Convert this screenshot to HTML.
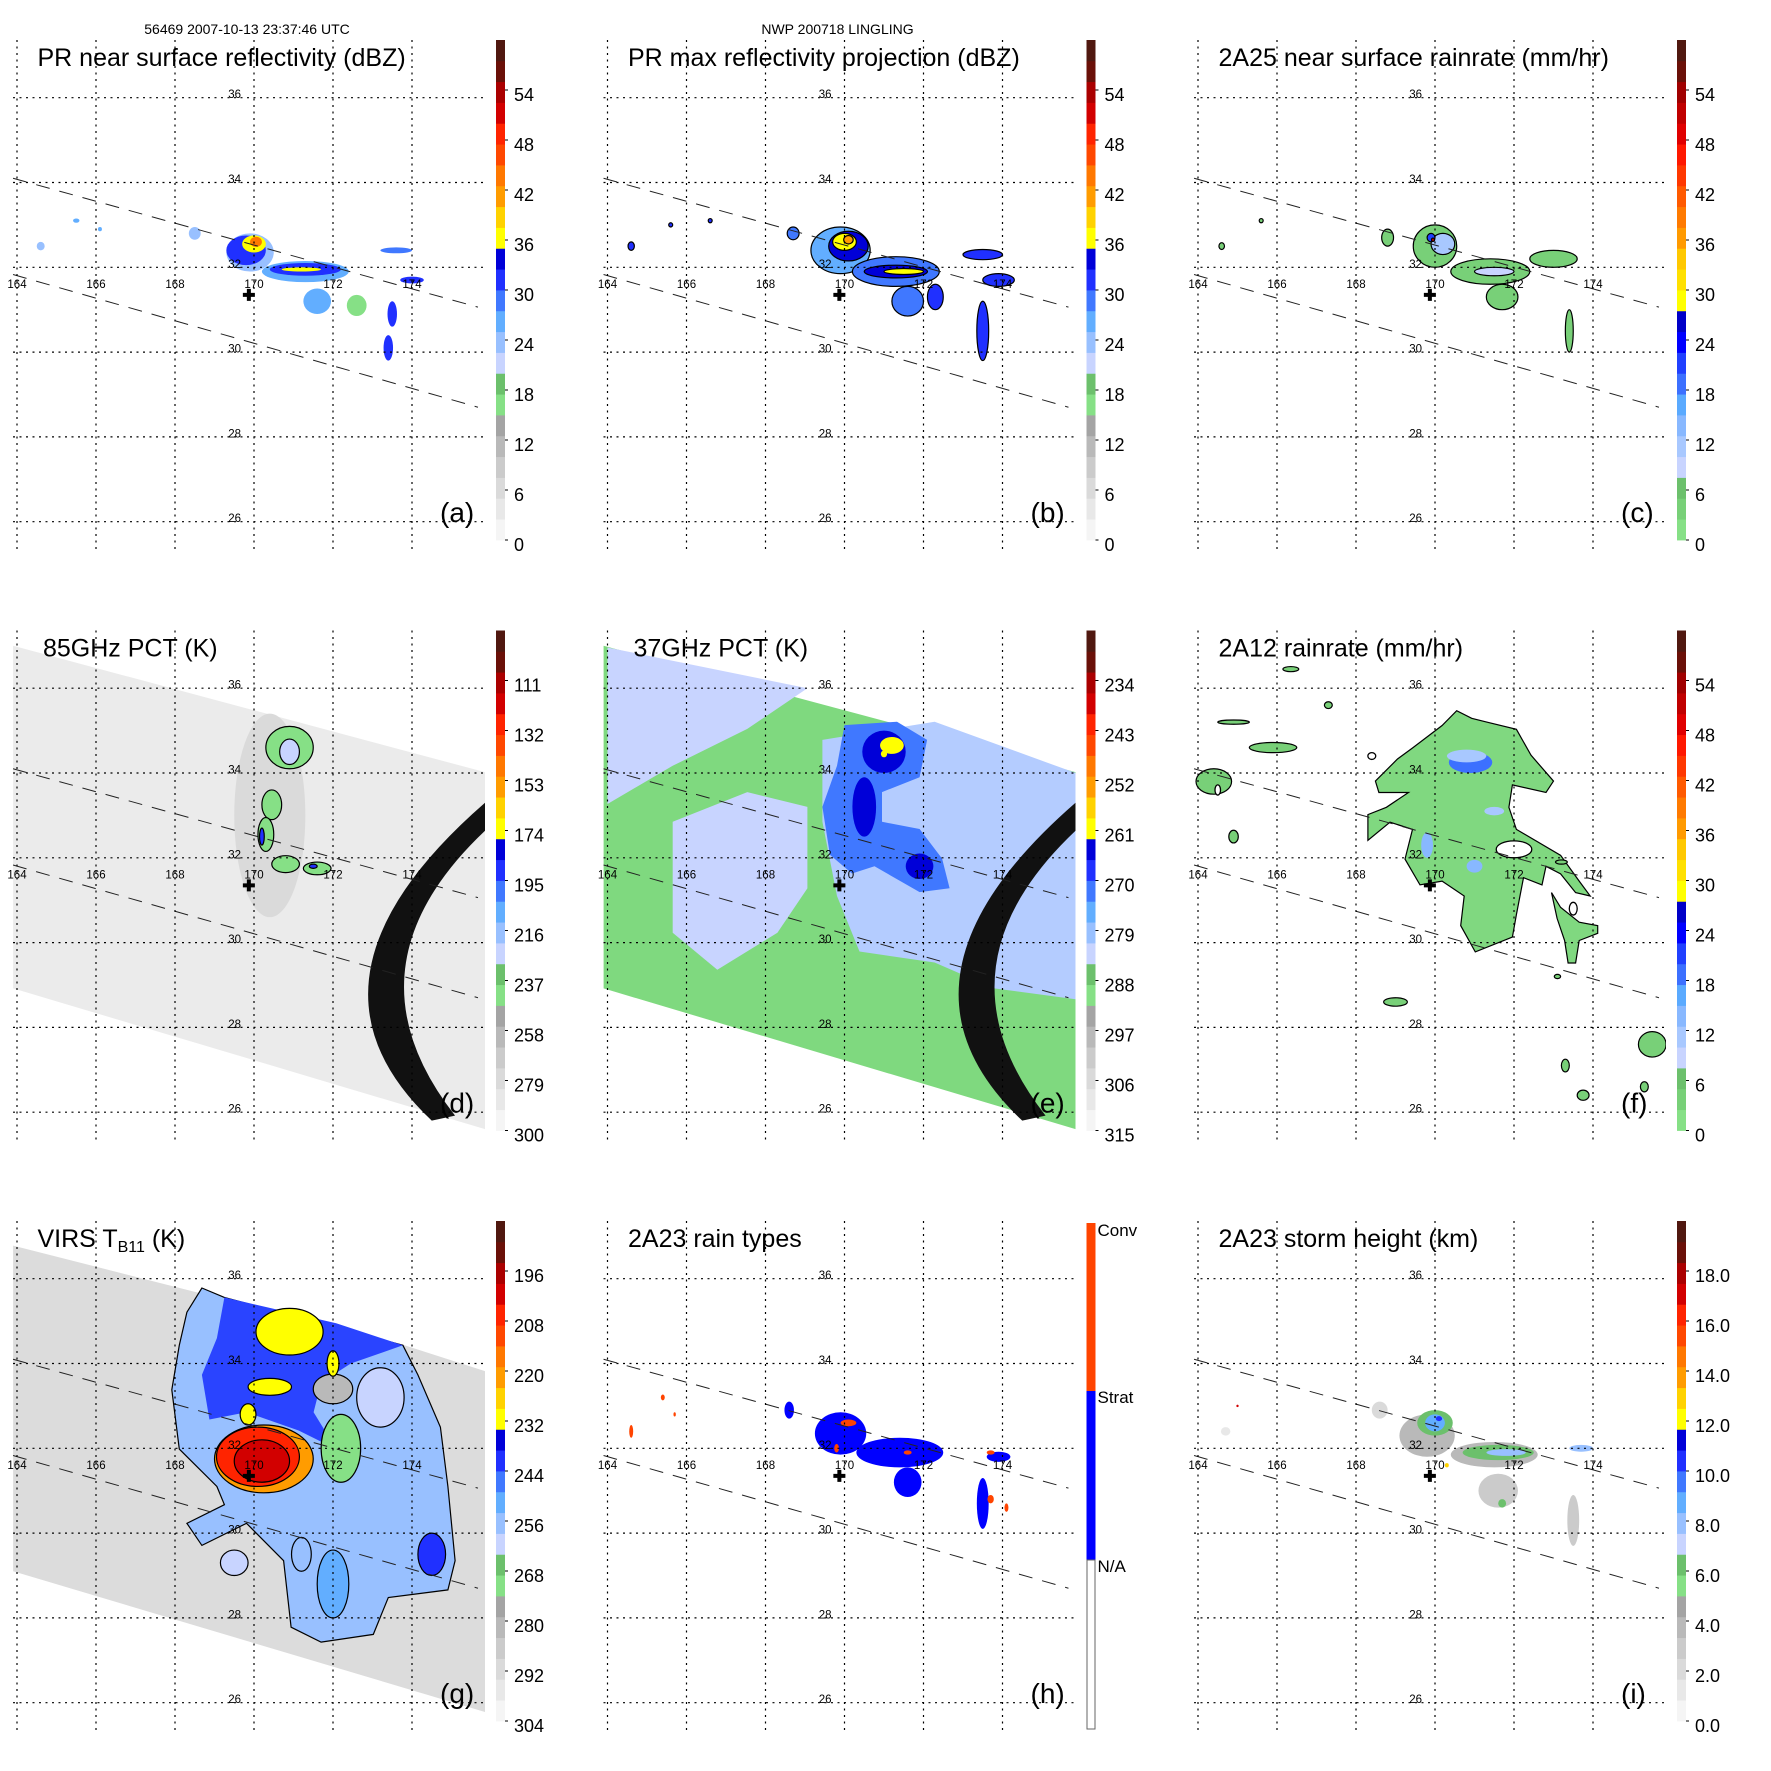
<!DOCTYPE html>
<html><head><meta charset="utf-8"><title>TRMM LINGLING</title>
<style>
html,body{margin:0;padding:0;background:#fff;width:1771px;height:1771px;overflow:hidden}
svg{display:block;font-family:"Liberation Sans",sans-serif}
</style></head>
<body>
<svg id="fig" xmlns="http://www.w3.org/2000/svg" width="1771" height="1771" viewBox="0 0 1771 1771">
<rect width="1771" height="1771" fill="#fff"/>
<text x="247" y="34" font-size="14" text-anchor="middle">56469 2007-10-13 23:37:46 UTC</text>
<text x="837.5" y="34" font-size="14" text-anchor="middle">NWP 200718 LINGLING</text>
</svg>
<script>
// ---------- data ----------
const lonTicks=[164,166,168,170,172,174];
const latTicks=[26,28,30,32,34,36];
const swathUpper=[[163.9,34.1],[175.67,31.06]];
const swathLower=[[163.9,31.83],[175.67,28.7]];
const stormCenter=[169.87,31.35];
const labelsA=['0','6','12','18','24','30','36','42','48','54'];
const labelsC=['0','6','12','18','24','30','36','42','48','54'];
const labelsD=['300','279','258','237','216','195','174','153','132','111'];
const labelsE=['315','306','297','288','279','270','261','252','243','234'];
const labelsG=['304','292','280','268','256','244','232','220','208','196'];
const labelsI=['0.0','2.0','4.0','6.0','8.0','10.0','12.0','14.0','16.0','18.0'];
// blobs: [lon, lat, halfwidth-lon, halfwidth-lat, value]
const blobsA=[[169.9,32.35,0.6,0.45,23],[169.8,32.4,0.5,0.35,31],[170.0,32.55,0.3,0.2,37],[170.05,32.6,0.15,0.12,43],
[171.3,31.9,1.1,0.25,25],[171.3,31.95,0.9,0.15,31],[171.2,31.95,0.5,0.05,37],[171.6,31.2,0.35,0.3,26],[172.6,31.1,0.25,0.25,17],
[173.5,30.9,0.12,0.3,31],[173.4,30.1,0.12,0.3,30],[174.0,31.7,0.3,0.08,30],[173.6,32.4,0.4,0.07,28],[168.5,32.8,0.15,0.15,24],
[164.6,32.5,0.1,0.1,24],[165.5,33.1,0.08,0.05,27],[166.1,32.9,0.05,0.05,26]];
const blobsB=[[169.9,32.4,0.75,0.55,27],[170.1,32.5,0.5,0.35,33],[170.0,32.6,0.3,0.2,37],[170.1,32.65,0.12,0.1,42],
[171.3,31.9,1.1,0.35,29],[171.3,31.9,0.8,0.15,33],[171.5,31.9,0.5,0.07,37],[171.6,31.2,0.4,0.35,29],[172.3,31.3,0.2,0.3,30],
[173.5,30.5,0.15,0.7,31],[173.9,31.7,0.4,0.15,30],[173.5,32.3,0.5,0.12,30],[168.7,32.8,0.15,0.15,28],[164.6,32.5,0.08,0.1,30],
[165.6,33.0,0.05,0.05,30],[166.6,33.1,0.05,0.05,30]];
const blobsC=[[170.0,32.5,0.55,0.5,3],[170.2,32.55,0.3,0.25,10],[169.9,32.7,0.1,0.1,22],[169.95,32.65,0.04,0.04,50],
[171.4,31.9,1.0,0.3,3],[171.5,31.9,0.5,0.1,9],[171.7,31.3,0.4,0.3,3],[173.0,32.2,0.6,0.2,3],[173.4,30.5,0.1,0.5,3],
[168.8,32.7,0.15,0.2,3],[164.6,32.5,0.07,0.08,3],[165.6,33.1,0.05,0.05,3]];
const swathD=[[163.9,37.0],[175.85,34.02],[175.85,25.6],[163.9,28.92]];
const blobsD=[[170.4,33.0,0.9,2.4,276],[170.9,34.6,0.6,0.5,239],[170.9,34.5,0.25,0.3,223],[170.45,33.25,0.25,0.35,239],
[170.3,32.55,0.2,0.4,239],[170.2,32.5,0.06,0.2,191],[170.8,31.85,0.35,0.2,239],[171.6,31.75,0.35,0.15,239],[171.5,31.8,0.1,0.05,191]];
const arcOuter=[[175.85,33.3],[172.94,29.34],[174.5,25.8]];
const arcInner=[[175.85,32.64],[173.82,29.34],[175.09,25.92]];
const eLightTL=[[164,36.96],[169.06,36.0],[167.54,35.04],[165.65,34.17],[164,33.27]];
const eLightMid=[[165.65,32.85],[167.54,33.55],[169.06,33.2],[169.06,31.28],[168.3,30.23],[166.78,29.36],[165.65,30.23]];
const eLightRight=[[169.44,34.78],[172.28,35.21],[175.88,33.99],[175.88,28.66],[173.79,28.92],[172.28,29.53],[170.38,29.79],[169.81,31.1],[169.44,32.85]];
const eStorm=[[170.0,35.13],[171.33,35.21],[172.09,34.78],[171.9,33.9],[170.95,33.55],[170.95,32.85],[171.9,32.68],[172.47,31.98],[172.66,31.28],[171.9,31.19],[170.76,31.8],[170.19,31.63],[169.63,32.07],[169.44,33.2],[169.81,34.17]];
const blobsE=[[171.0,34.5,0.55,0.5,266],[170.5,33.2,0.3,0.7,266],[171.9,31.8,0.35,0.3,266],[171.2,34.65,0.3,0.2,261],[171.0,34.45,0.08,0.08,261]];
const swathG=[[163.9,36.78],[173.77,34.44],[175.85,33.82],[175.85,25.78],[163.9,29.1]];
const gOuter=[[168.68,35.78],[169.25,35.56],[173.77,34.43],[174.15,33.73],[174.72,32.5],[174.91,31.1],[175.09,29.35],[174.91,28.66],[173.4,28.48],[173.02,27.61],[171.7,27.43],[170.94,27.78],[170.75,29.35],[169.81,30.23],[168.68,29.71],[168.3,30.23],[169.25,30.67],[169.06,31.1],[168.11,31.98],[167.92,33.38],[168.11,34.43],[168.3,35.21]];
const gBlue=[[169.25,35.56],[172.08,34.95],[173.77,34.43],[172.45,34.0],[171.7,33.55],[171.51,32.85],[172.08,31.98],[171.13,32.42],[169.81,32.85],[168.87,32.68],[168.68,33.73],[169.06,34.6]];
const blobsG=[[172.2,32.0,0.5,0.8,270],[173.2,33.2,0.6,0.7,262],[172.0,33.4,0.5,0.35,282],[170.9,34.75,0.85,0.55,232],[170.4,33.45,0.55,0.2,232],
[172.0,34.0,0.15,0.3,232],[169.85,32.8,0.2,0.25,232],[170.25,31.75,1.25,0.8,222],[170.1,31.8,1.05,0.7,208],[170.2,31.7,0.7,0.5,202],
[172.0,28.8,0.4,0.8,252],[174.5,29.5,0.35,0.5,244],[171.2,29.5,0.25,0.4,258],[169.5,29.3,0.35,0.3,262]];
const blobsH=[[169.9,32.35,0.65,0.5,1],[171.4,31.9,1.1,0.35,1],[171.6,31.2,0.35,0.35,1],[173.5,30.7,0.15,0.6,1],[173.9,31.8,0.3,0.12,1],[168.6,32.9,0.12,0.2,1],
[170.1,32.6,0.2,0.08,2],[169.8,32.0,0.06,0.1,2],[171.6,31.9,0.1,0.05,2],[173.7,31.9,0.1,0.05,2],[173.7,30.8,0.08,0.1,2],[174.1,30.6,0.05,0.1,2],
[164.6,32.4,0.05,0.15,2],[165.4,33.2,0.05,0.07,2],[165.7,32.8,0.03,0.05,2]];
const blobsI=[[169.8,32.3,0.7,0.5,3.5],[170.0,32.6,0.45,0.3,6],[170.0,32.6,0.25,0.2,8.5],[170.1,32.7,0.08,0.06,10.5],[171.5,31.85,1.1,0.3,3.5],
[171.6,31.9,0.9,0.18,6],[171.8,31.9,0.5,0.08,8],[171.6,31.0,0.5,0.4,3],[171.7,30.7,0.1,0.1,6],[173.5,30.3,0.15,0.6,3],[173.7,32.0,0.3,0.08,7.5],
[168.6,32.9,0.2,0.2,2],[164.7,32.4,0.12,0.1,1.5],[165.0,33.0,0.03,0.03,17],[170.3,31.6,0.05,0.05,12.5]];
const fMain=[[168.49,33.81],[169.05,34.33],[169.43,34.59],[170.18,35.12],[170.55,35.47],[170.93,35.29],[171.31,35.2],[172.06,35.03],[172.43,34.42],[173.0,33.81],[172.81,33.54],[171.96,33.72],[171.87,33.19],[172.06,32.67],[173.18,32.06],[173.65,31.45],[173.93,31.1],[173.56,31.18],[173.18,31.62],[172.81,31.8],[172.71,31.36],[172.24,31.53],[172.06,30.66],[171.96,30.13],[171.02,29.78],[170.65,30.4],[170.74,31.1],[170.18,31.45],[169.62,31.36],[169.24,31.97],[169.43,32.67],[168.86,32.84],[168.3,32.41],[168.3,33.02],[168.77,33.19],[169.33,33.54],[168.58,33.54]];
const fBranch=[[172.95,31.18],[173.18,30.83],[173.65,30.48],[174.12,30.4],[174.12,30.22],[173.65,30.05],[173.56,29.52],[173.37,29.52],[173.28,30.05],[173.09,30.57]];
const blobsF=[[164.4,33.8,0.45,0.3,3],[164.9,35.2,0.4,0.05,3],[165.9,34.6,0.6,0.12,3],[164.9,32.5,0.12,0.15,3],[166.35,36.45,0.2,0.06,3],[167.3,35.6,0.1,0.08,3],
[175.5,27.6,0.35,0.3,3],[173.3,27.1,0.1,0.15,3],[173.75,26.4,0.15,0.12,3],[175.3,26.6,0.1,0.12,3],[169.0,28.6,0.3,0.1,3],[173.2,31.9,0.15,0.05,3],[173.1,29.2,0.08,0.05,3]];
const blobsFBlue=[[170.9,34.25,0.55,0.25,18],[170.8,34.4,0.5,0.15,10],[169.8,32.3,0.15,0.3,14],[171.0,31.8,0.2,0.15,14],[171.5,33.1,0.25,0.1,12]];
const fHoles=[[172.0,32.2,0.45,0.2],[173.5,30.8,0.1,0.15],[168.4,34.4,0.1,0.08],[164.5,33.6,0.07,0.12]];

const palStd=['#f5f5f5','#e8e8e8','#dadada','#cbcbcb','#b9b9b9','#a4a4a4','#86e086','#6cc06c','#c8d4ff','#98c0ff','#62aeff','#4078ff','#2030ff','#0000d8','#ffff00','#ffd200','#ff9c00','#ff7800','#ff4800','#ff2400','#d20000','#aa0000','#6a1008','#501810'];
const palRain=['#86e086','#78d078','#6cc06c','#c8d4ff','#a8c8ff','#88b8ff','#5aaaff','#3c70ff','#2040ff','#0000ff','#0000c8','#ffff00','#ffe000','#ffc800','#ff9a00','#ff7a00','#ff5a00','#ff3800','#ff1800','#e00000','#c00000','#a00000','#6a1008','#501810'];

// ---------- drawing ----------
const NS='http://www.w3.org/2000/svg';
const svg=document.getElementById('fig');
const PITCH=590.5;
function X(lon){return 17+(lon-164)*39.5;}
function Y(lat){return 97.7+(36-lat)*42.4;}
function mk(tag,attrs,parent){const e=document.createElementNS(NS,tag);for(const k in attrs)e.setAttribute(k,attrs[k]);parent.appendChild(e);return e;}
function col(pal,t){let i=Math.floor(t/2.5);if(i<0)i=0;if(i>23)i=23;return pal[i];}
function pts(arr){return arr.map(p=>X(p[0]).toFixed(1)+','+Y(p[1]).toFixed(1)).join(' ');}

function drawBlobs(g,blobs,pal,tf,stroke,name){
  blobs.forEach(b=>{
    const e=mk('ellipse',{cx:X(b[0]),cy:Y(b[1]),rx:b[2]*39.5,ry:b[3]*42.4,fill:col(pal,tf(b[4])),stroke:stroke?'#000':'none','stroke-width':1.2},g);
    
    
  });
}
function drawPoly(g,arr,fill,stroke,name){
  const e=mk('polygon',{points:pts(arr),fill:fill,stroke:stroke?'#000':'none','stroke-width':1.2},g);
  
  
  return e;
}
function drawArc(g){
  const c=(a)=>{const s=a[0],m=a[1],e=a[2];return [2*X(m[0])-(X(s[0])+X(e[0]))/2,2*Y(m[1])-(Y(s[1])+Y(e[1]))/2];};
  const co=c(arcOuter),ci=c(arcInner);
  const d='M'+X(arcOuter[0][0])+','+Y(arcOuter[0][1])+' Q'+co[0]+','+co[1]+' '+X(arcOuter[2][0])+','+Y(arcOuter[2][1])+
    ' L'+X(arcInner[2][0])+','+Y(arcInner[2][1])+' Q'+ci[0]+','+ci[1]+' '+X(arcInner[0][0])+','+Y(arcInner[0][1])+' Z';
  const e=mk('path',{d:d,fill:'#111'},g);
  
  
}

function panel(ci,ri,id,title,labels,pal,drawData){
  const g=mk('g',{transform:'translate('+(ci*PITCH)+','+(ri*PITCH)+')'},svg);
  
  
  const cp=mk('clipPath',{id:'clip'+id},g);
  mk('rect',{x:13,y:40,width:472,height:508},cp);
  const dg=mk('g',{'clip-path':'url(#clip'+id+')'},g);
  
  
  drawData(dg);
  [swathUpper,swathLower].forEach((s,i)=>{
    const l=mk('line',{x1:X(s[0][0]),y1:Y(s[0][1]),x2:X(s[1][0]),y2:Y(s[1][1]),stroke:'#222','stroke-width':1,'stroke-dasharray':'14,10'},g);
    
    
  });
  lonTicks.forEach(lon=>{
    const l=mk('line',{x1:X(lon),y1:40,x2:X(lon),y2:549,stroke:'#000','stroke-width':1.2,'stroke-dasharray':'2,4.5'},g);
    
    
    const t=mk('text',{x:X(lon),y:288,'font-size':11.5,'text-anchor':'middle'},g);
    t.textContent=String(lon);
    
    
  });
  latTicks.forEach(lat=>{
    const l=mk('line',{x1:13,y1:Y(lat),x2:487,y2:Y(lat),stroke:'#000','stroke-width':1.2,'stroke-dasharray':'2,4.5'},g);
    
    
    const t=mk('text',{x:241,y:Y(lat)+0.5,'font-size':11.5,'text-anchor':'end'},g);
    t.textContent=String(lat);
    
    
  });
  const cx=X(stormCenter[0]),cy=Y(stormCenter[1]);
  const cr=mk('path',{d:'M'+(cx-6)+','+cy+'h12M'+cx+','+(cy-6)+'v12',stroke:'#000','stroke-width':4},g);
  
  
  const tt=mk('text',{x:(id==='d'||id==='e')?43:37.5,y:66,'font-size':25},g);
  if(id==='g'){
    tt.textContent='VIRS T';
    const s=mk('tspan',{'font-size':16,dy:5},tt);s.textContent='B11';
    const s2=mk('tspan',{dy:-5},tt);s2.textContent=' (K)';
  } else tt.textContent=title;
  
  
  const pl=mk('text',{x:440,y:522,'font-size':28},g);
  pl.textContent='('+id+')';
  
  
  const cb=mk('g',{},g);
  
  
  if(id==='h'){
    const r1=mk('rect',{x:496,y:42,width:9,height:168,fill:'#ff4400'},cb);
    
    
    const r2=mk('rect',{x:496,y:210,width:9,height:169,fill:'#0000ff'},cb);
    
    
    const r3=mk('rect',{x:496.5,y:379,width:8,height:169,fill:'#fff',stroke:'#666','stroke-width':1},cb);
    
    
    [['Conv',43],['Strat',210],['N/A',379]].forEach(p=>{
      const t=mk('text',{x:507,y:p[1]+12,'font-size':17},cb);
      t.textContent=p[0];
      
      
    });
  } else {
    const h=500/24;
    pal.forEach((c,i)=>{
      const r=mk('rect',{x:496,y:540-(i+1)*h,width:9,height:h+0.4,fill:c},cb);
      
      
    });
    labels.forEach((lb,k)=>{
      const y=540-k*50;
      mk('line',{x1:505,y1:y,x2:508,y2:y,stroke:'#000','stroke-width':1},cb);
      const t=mk('text',{x:514,y:y+11,'font-size':18},cb);
      t.textContent=lb;
      
      
    });
  }
}

const id=v=>v;
panel(0,0,'a','PR near surface reflectivity (dBZ)',labelsA,palStd,g=>drawBlobs(g,blobsA,palStd,id,false,'reflectivity-cell'));
panel(1,0,'b','PR max reflectivity projection (dBZ)',labelsA,palStd,g=>drawBlobs(g,blobsB,palStd,id,true,'max-reflectivity-cell'));
panel(2,0,'c','2A25 near surface rainrate (mm/hr)',labelsC,palRain,g=>drawBlobs(g,blobsC,palRain,id,true,'rainrate-cell'));
const tD=k=>(300-k)/189*54;
panel(0,1,'d','85GHz PCT (K)',labelsD,palStd,g=>{
  drawPoly(g,swathD,'#ebebeb',false,'tmi-swath');
  drawBlobs(g,blobsD.slice(0,1),palStd,tD,false,'ice-scatter-shade');
  drawBlobs(g,blobsD.slice(1),palStd,tD,true,'ice-scatter-cell');
  drawArc(g);
});
const tE=k=>(315-k)/81*54;
panel(1,1,'e','37GHz PCT (K)',labelsE,palStd,g=>{
  drawPoly(g,swathD,'#7fd97f',false,'tmi-swath');
  drawPoly(g,eLightTL,'#c8d4ff',false,'light-region');
  drawPoly(g,eLightMid,'#c8d4ff',false,'light-region');
  drawPoly(g,eLightRight,'#b4ccff',false,'light-region');
  drawPoly(g,eStorm,'#4078ff',false,'storm-region');
  drawBlobs(g,blobsE,palStd,tE,false,'pct-cell');
  drawArc(g);
});
panel(2,1,'f','2A12 rainrate (mm/hr)',labelsC,palRain,g=>{
  drawPoly(g,fMain,'#80d880',true,'rain-area');
  drawPoly(g,fBranch,'#80d880',true,'rain-area');
  drawBlobs(g,blobsF,palRain,id,true,'rain-cell');
  drawBlobs(g,blobsFBlue,palRain,id,false,'heavy-rain-cell');
  fHoles.forEach((h,i)=>{
    const e=mk('ellipse',{cx:X(h[0]),cy:Y(h[1]),rx:h[2]*39.5,ry:h[3]*42.4,fill:'#fff',stroke:'#000','stroke-width':1.3},g);
    
    
  });
});
const tG=k=>(304-k)/108*54;
panel(0,2,'g','VIRS TB11 (K)',labelsG,palStd,g=>{
  drawPoly(g,swathG,'#dcdcdc',false,'virs-swath');
  drawPoly(g,gOuter,'#98c0ff',true,'cloud-shield');
  drawPoly(g,gBlue,'#2a44ff',false,'cold-cloud');
  drawBlobs(g,blobsG,palStd,tG,true,'cloud-cell');
});
panel(1,2,'h','2A23 rain types',[],palStd,g=>{
  blobsH.forEach(b=>{
    const e=mk('ellipse',{cx:X(b[0]),cy:Y(b[1]),rx:b[2]*39.5,ry:b[3]*42.4,fill:b[4]===2?'#ff4400':'#0000ff'},g);
    
    
  });
});
panel(2,2,'i','2A23 storm height (km)',labelsI,palStd,g=>drawBlobs(g,blobsI,palStd,k=>k*3,false,'storm-height-cell'));
</script>
</body></html>
